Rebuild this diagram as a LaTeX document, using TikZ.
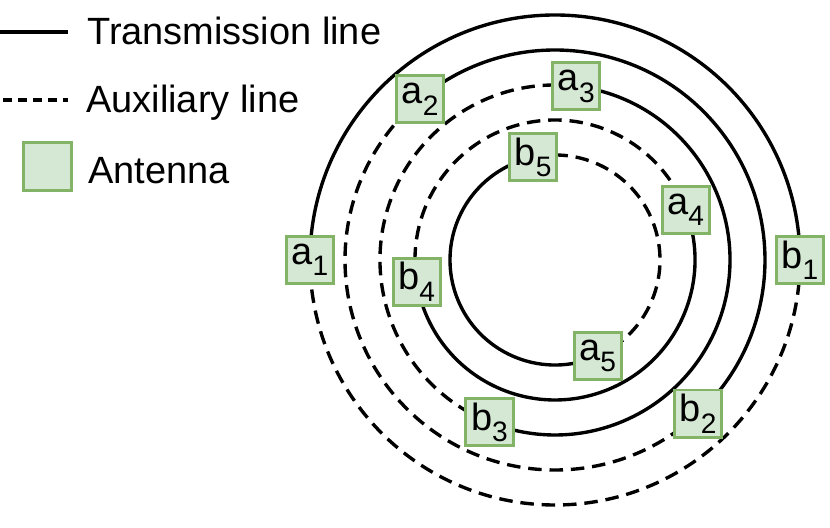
\documentclass[tikz,border=0pt]{standalone}
\usepackage{fontspec}
\setmainfont{Liberation Sans}
\usetikzlibrary{backgrounds}
\definecolor{antfill}{HTML}{D5E8D4}
\definecolor{antdraw}{HTML}{82B366}
\newcommand\antsub[1]{\raisebox{-0.3em}{\fontsize{20}{20}\selectfont #1}}
\tikzset{
  trans/.style={line width=2.4pt},
  aux/.style={line width=2.4pt, dash pattern=on 9.6pt off 5.6pt},
  antenna/.style={draw=antdraw, fill=antfill, line width=2.1pt, minimum size=1.18cm, inner sep=0pt},
  legtext/.style={anchor=base west, inner sep=0pt},
}
\begin{document}
\begin{tikzpicture}[x=0.025cm, y=0.025cm, font=\fontsize{27}{31}\selectfont]
\useasboundingbox (0,0) rectangle (830,527);
% legend
\coordinate (t0) at (0,495);
\coordinate (t1) at (68,495);
\draw[trans] (t0) -- (t1);
\node[legtext] (ltrans) at (87,482) {Transmission line};
\coordinate (x0) at (3,427);
\coordinate (x1) at (68,427);
\draw[aux, dash pattern=on 6.4pt off 4.3pt] (x0) -- (x1);
\node[legtext] (laux) at (86,414) {Auxiliary line};
\node[antenna] (lant) at (47.5,360.5) {};
\node[legtext] (lantt) at (88,343) {Antenna};
% rings: solid from a_i to b_i, dashed back to a_i
\coordinate (c) at (555,267);
\foreach \i/\r/\A/\B in {1/245/180/0, 2/210/130/-47, 3/175/83/-112, 4/140/21/-171, 5/105/-66/-258} {
  \node[antenna] (a\i) at ([shift={(\A:\r)}]c) {a\antsub{\i}};
  \node[antenna] (b\i) at ([shift={(\B:\r)}]c) {b\antsub{\i}};
  \pgfmathsetmacro\E{\A-360}
  \begin{scope}[on background layer]
    \draw[trans] (a\i.center) arc[start angle=\A, end angle=\B, radius=\r];
    \draw[aux] (b\i.center) arc[start angle=\B, end angle=\E, radius=\r];
  \end{scope}
}
\end{tikzpicture}
\end{document}
